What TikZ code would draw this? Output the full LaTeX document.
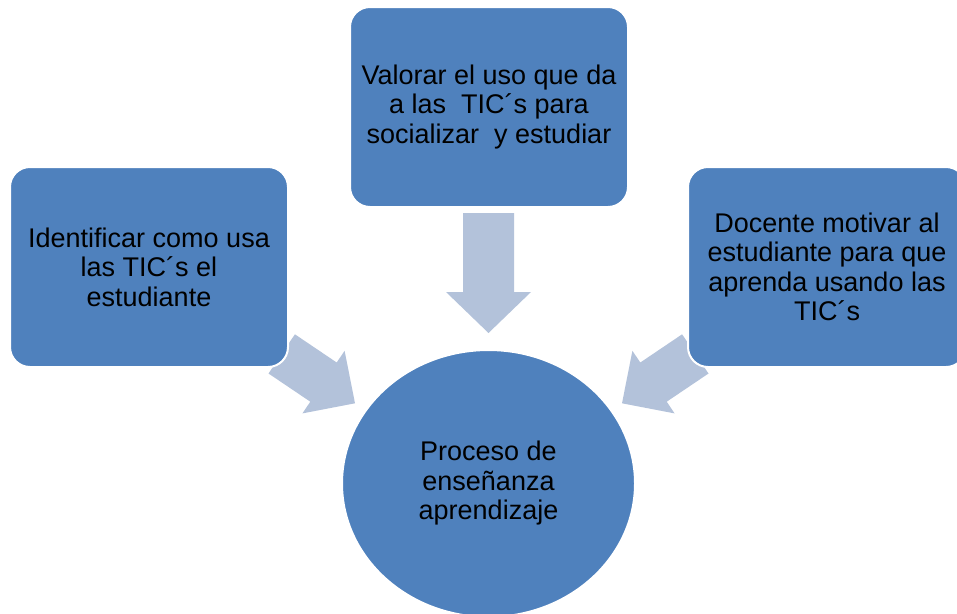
\documentclass[tikz,border=0pt]{standalone}
\usepackage{fontspec}
\setmainfont{Liberation Sans}
\usetikzlibrary{shapes.geometric}
\definecolor{boxblue}{RGB}{79,129,189}
\definecolor{arrowblue}{RGB}{179,194,218}
\begin{document}
\begin{tikzpicture}[x=1pt,y=-1pt,
  txt/.style={align=center, font=\fontsize{27}{29.5}\selectfont, text=black},
  box/.style={txt, draw=white, line width=2pt, fill=boxblue, rounded corners=20pt,
    minimum width=278pt, minimum height=200pt, inner sep=0pt},
  blob/.style={txt, ellipse, draw=white, line width=2pt, fill=boxblue,
    minimum width=293pt, minimum height=267pt, inner sep=0pt},
  blockarrow/.style={fill=arrowblue}]
\useasboundingbox (0,0) rectangle (957,613);
\clip (0,0) rectangle (957,613);
% block arrows (drawn first, boxes cover their back ends)
\fill[blockarrow] (463,213) -- (514,213) -- (514,292) -- (531,292) -- (488.5,333)
  -- (446,292) -- (463,292) -- cycle;
\fill[blockarrow] (294.9,334.3) -- (336.7,362.5) -- (344.6,350.8) -- (355,403.3)
  -- (302.4,413.4) -- (310.3,401.7) -- (268.5,373.5) -- cycle;
\fill[blockarrow] (682.1,334.3) -- (640.3,362.5) -- (632.4,350.8) -- (622,403.3)
  -- (674.6,413.4) -- (666.7,401.7) -- (708.5,373.5) -- cycle;
% boxes
\node[box] (left) at (149,267) {Identificar como usa\\las TIC´s el\\estudiante};
\node[box] (top) at (489,107) {Valorar el uso que da\\a las\ \ TIC´s para\\socializar\ \ y estudiar};
\node[box] (right) at (827,267) {Docente motivar al\\estudiante para que\\aprenda usando las\\TIC´s};
\node[blob] (proc) at (488.5,483.5) {Proceso de\\enseñanza\\aprendizaje};
\end{tikzpicture}
\end{document}
